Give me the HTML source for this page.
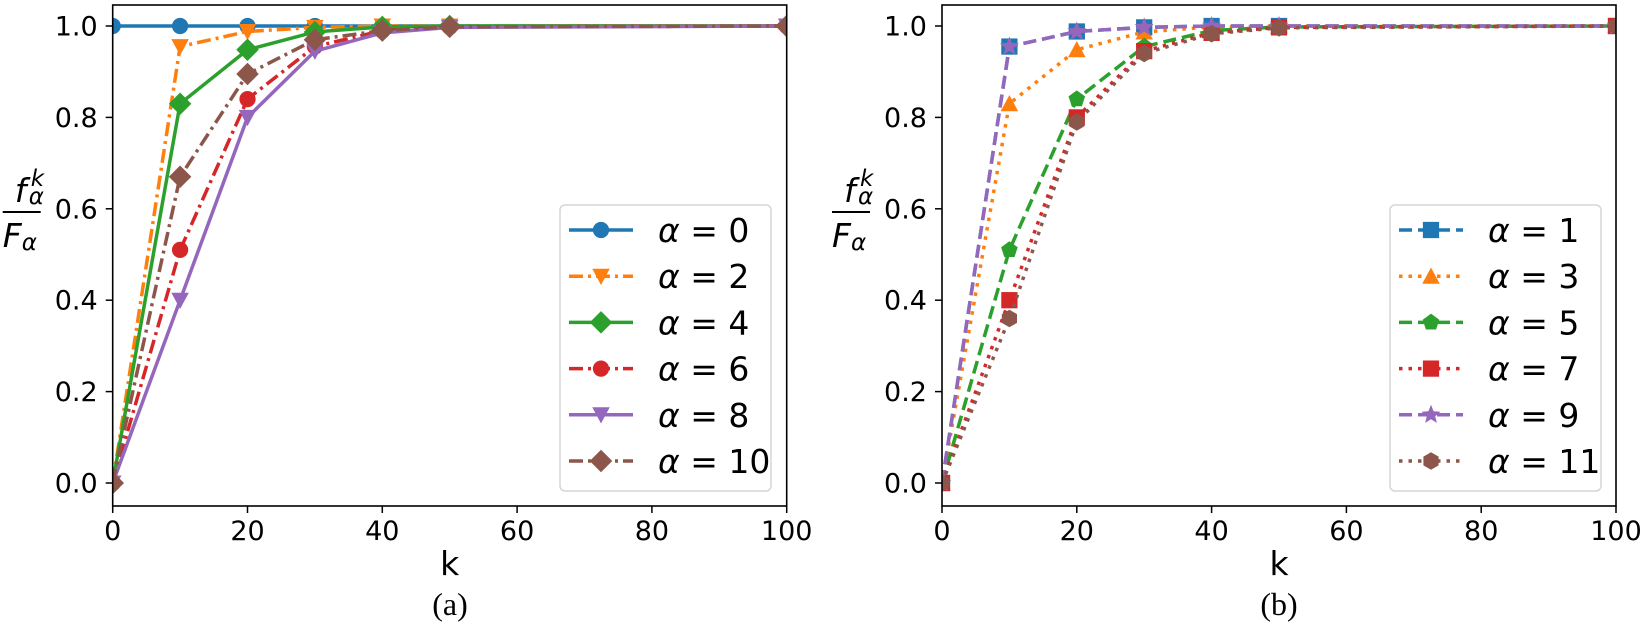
<!DOCTYPE html>
<html><head><meta charset="utf-8"><style>
html,body{margin:0;padding:0;background:#fff;}
svg{display:block;font-family:"DejaVu Sans","Liberation Sans",sans-serif;}
</style></head><body>
<svg id="s" width="1642" height="629" viewBox="0 0 1642 629" xmlns="http://www.w3.org/2000/svg"></svg>
<script>
const S=document.getElementById('s');let h='';
const C={b:'#1f77b4',o:'#ff7f0e',g:'#2ca02c',r:'#d62728',p:'#9467bd',n:'#8c564b'};
const Y0=483,YS=457,XS=6.74;
const ks=[0,10,20,30,40,50,100];
function marker(t,x,y,c,s){s=s||1.25;
 if(t=='o')return `<circle cx="${x}" cy="${y}" r="${6.5*s}" fill="${c}"/>`;
 if(t=='v')return `<polygon points="${x-7*s},${y-6*s} ${x+7*s},${y-6*s} ${x},${y+7*s}" fill="${c}"/>`;
 if(t=='^')return `<polygon points="${x-7*s},${y+6*s} ${x+7*s},${y+6*s} ${x},${y-7*s}" fill="${c}"/>`;
 if(t=='D')return `<polygon points="${x},${y-9*s} ${x+9*s},${y} ${x},${y+9*s} ${x-9*s},${y}" fill="${c}"/>`;
 if(t=='s')return `<rect x="${x-6.5*s}" y="${y-6.5*s}" width="${13*s}" height="${13*s}" fill="${c}"/>`;
 if(t=='p'||t=='h'){let n=t=='p'?5:6,pts=[];for(let i=0;i<n;i++){let a=-Math.PI/2+i*2*Math.PI/n;pts.push((x+7*s*Math.cos(a)).toFixed(1)+','+(y+7*s*Math.sin(a)).toFixed(1));}return `<polygon points="${pts}" fill="${c}"/>`;}
 if(t=='*'){let pts=[];for(let i=0;i<10;i++){let a=-Math.PI/2+i*Math.PI/5,r=i%2?3.5*s:8*s;pts.push((x+r*Math.cos(a)).toFixed(1)+','+(y+r*Math.sin(a)).toFixed(1));}return `<polygon points="${pts}" fill="${c}"/>`;}
}
const dash={'-':'','-.':'stroke-dasharray="14,5,3,5"','--':'stroke-dasharray="13,6"',':':'stroke-dasharray="3.5,6"'};
function axes(X0,series,legTop,legL,legR){
 h+=`<defs><clipPath id="c${X0}"><rect x="${X0}" y="5" width="674" height="501"/></clipPath></defs>`;
 h+=`<g clip-path="url(#c${X0})">`;
 for(const s of series){
  let pts=s.v.map((v,i)=>[X0+ks[i]*XS,Y0-v*YS]);
  h+=`<polyline points="${pts.map(p=>p.join(',')).join(' ')}" fill="none" stroke="${C[s.c]}" stroke-width="3.5" ${dash[s.l]}/>`;
  for(const p of pts)h+=marker(s.m,p[0],p[1],C[s.c]);
 }
 h+='</g>';
 h+=`<rect x="${X0}" y="5" width="674" height="501" fill="none" stroke="#000" stroke-width="1.6"/>`;
 for(let i=0;i<=5;i++){let y=Y0-0.2*i*YS;h+=`<line x1="${X0-7}" y1="${y}" x2="${X0}" y2="${y}" stroke="#000" stroke-width="1.5"/><text x="${X0-15}" y="${y+9.5}" font-size="27" text-anchor="end">${(0.2*i).toFixed(1)}</text>`;}
 for(let i=0;i<=5;i++){let x=X0+i*20*XS;h+=`<line x1="${x}" y1="506" x2="${x}" y2="513" stroke="#000" stroke-width="1.5"/><text x="${x}" y="540" font-size="27" text-anchor="middle">${i*20}</text>`;}
 h+=`<text x="${X0+337}" y="575" font-size="33" text-anchor="middle">k</text>`;
 let fx=X0-92;
 h+=`<text x="${fx-6}" y="202" font-size="33" font-style="italic">f</text><text x="${fx+10}" y="186" font-size="23" font-style="italic">k</text><text x="${fx+8}" y="204" font-size="23" font-style="italic">α</text>`;
 h+=`<line x1="${X0-110}" y1="212" x2="${X0-72}" y2="212" stroke="#000" stroke-width="2"/>`;
 h+=`<text x="${X0-110}" y="247" font-size="33" font-style="italic">F</text><text x="${X0-91}" y="250" font-size="23" font-style="italic">α</text>`;
 h+=`<rect x="${legL}" y="${legTop}" width="${legR-legL}" height="${491-legTop}" rx="5" fill="#fff" fill-opacity="0.8" stroke="#d6d6d6" stroke-width="1.5"/>`;
 series.forEach((s,i)=>{let y=legTop+25+i*46.2;let lx=legL+9;
  h+=`<line x1="${lx}" y1="${y}" x2="${lx+64}" y2="${y}" stroke="${C[s.c]}" stroke-width="3.5" ${dash[s.l]}/>`+marker(s.m,lx+32,y,C[s.c]);
  h+=`<text x="${legL+98}" y="${y+12}" font-size="33"><tspan font-style="italic">α</tspan> = ${s.n}</text>`;});
}
const A=[1,1,1,1,1,1,1],B=[0,.955,.988,.997,1,1,1],Cc=[0,.83,.948,.987,.998,1,1],D=[0,.51,.84,.955,.99,.998,1],E=[0,.40,.80,.945,.985,.997,1],F=[0,.67,.895,.97,.99,.998,1],G=[0,.36,.79,.94,.983,.996,1];
axes(112.7,[{n:0,c:'b',l:'-',m:'o',v:A},{n:2,c:'o',l:'-.',m:'v',v:B},{n:4,c:'g',l:'-',m:'D',v:Cc},{n:6,c:'r',l:'-.',m:'o',v:D},{n:8,c:'p',l:'-',m:'v',v:E},{n:10,c:'n',l:'-.',m:'D',v:F}],205,560,771);
axes(942,[{n:1,c:'b',l:'--',m:'s',v:B},{n:3,c:'o',l:':',m:'^',v:Cc},{n:5,c:'g',l:'--',m:'p',v:D},{n:7,c:'r',l:':',m:'s',v:E},{n:9,c:'p',l:'--',m:'*',v:B},{n:11,c:'n',l:':',m:'h',v:G}],205,1390,1601);
h+=`<text x="450" y="615" font-size="32" font-family="Liberation Serif,serif" text-anchor="middle">(a)</text>`;
h+=`<text x="1279" y="615" font-size="32" font-family="Liberation Serif,serif" text-anchor="middle">(b)</text>`;
S.innerHTML=h;
</script>
</body></html>
